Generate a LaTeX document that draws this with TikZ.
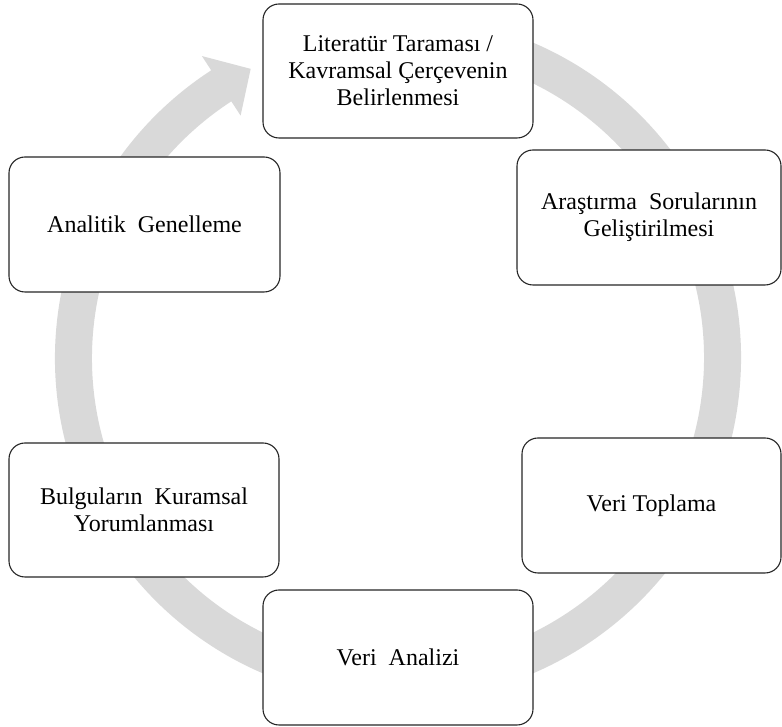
\documentclass[tikz,border=0pt]{standalone}
\usepackage{fontspec}
\setmainfont{Liberation Serif}
\begin{document}
\begin{tikzpicture}[x=1pt,y=1pt,
  stage/.style={draw=black!85, line width=1.1pt, fill=white, rounded corners=16pt,
    align=center, inner sep=0pt, font=\fontsize{24}{27}\selectfont},
  ring/.style={fill=black!15, draw=none}]
\useasboundingbox (0,0) rectangle (782,727);
% circular gray arrow running clockwise behind the stages
\begin{scope}[shift={(398,369)}]
  \fill[ring] (80:343) arc[start angle=80, end angle=-237, radius=343]
    -- (-237:360) -- (-243:324.5) -- (-237:289) -- (-237:306)
    arc[start angle=-237, end angle=80, radius=306] -- cycle;
\end{scope}
% stages of the cycle
\node[stage, minimum width=270pt, minimum height=134pt] (lit) at (398,656)
  {Literatür Taraması /\\Kavramsal Çerçevenin\\Belirlenmesi};
\node[stage, minimum width=264pt, minimum height=135pt] (soru) at (649,509.5)
  {Araştırma\ \ Sorularının\\Geliştirilmesi};
\node[stage, minimum width=259pt, minimum height=135pt] (veri) at (651.5,221.5)
  {Veri Toplama};
\node[stage, minimum width=270pt, minimum height=135pt] (analiz) at (398,69.5)
  {Veri\ \ Analizi};
\node[stage, minimum width=270pt, minimum height=134pt] (yorum) at (144,217)
  {Bulguların\ \ Kuramsal\\Yorumlanması};
\node[stage, minimum width=271pt, minimum height=135pt] (genel) at (144.5,502.5)
  {Analitik\ \ Genelleme};
\end{tikzpicture}
\end{document}
